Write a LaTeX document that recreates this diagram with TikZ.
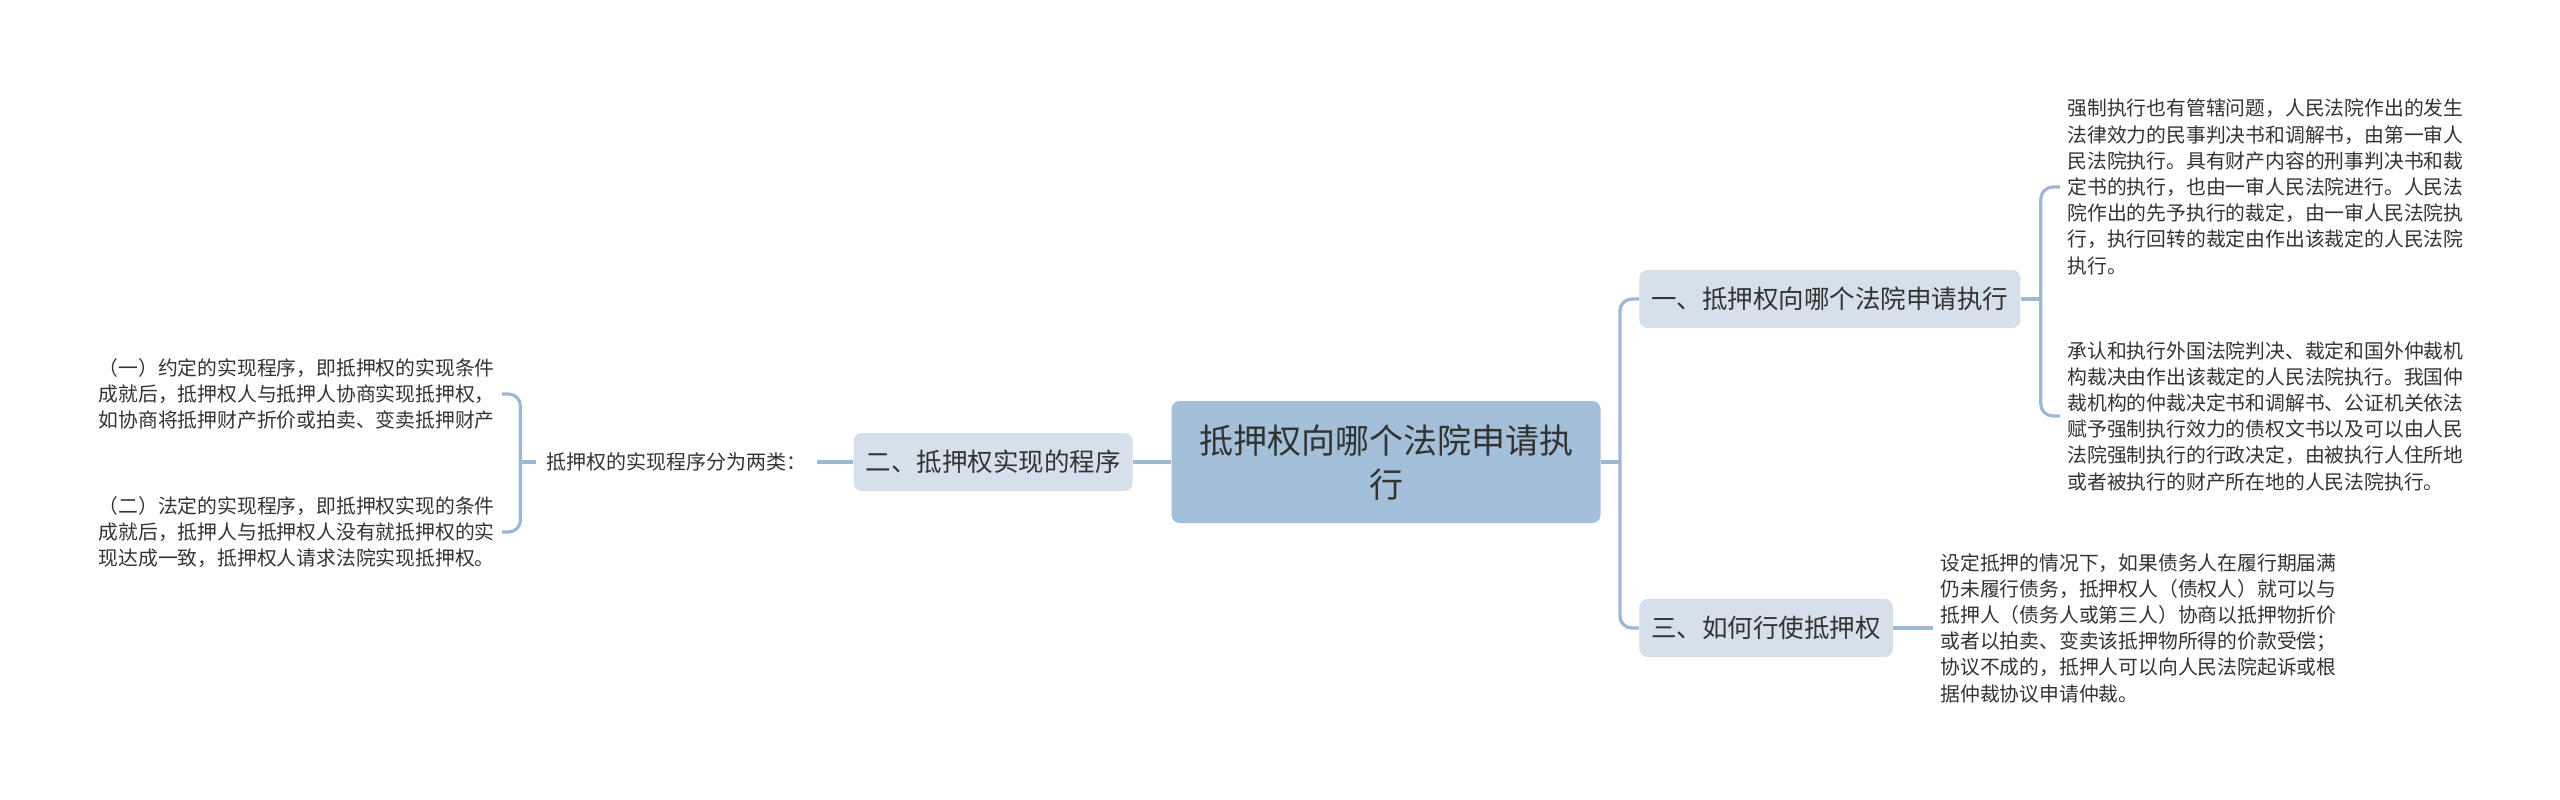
\documentclass[tikz,border=0pt]{standalone}
\usepackage{fontspec}
\setmainfont{Noto Sans CJK SC}
\usepackage{tikz}
\usetikzlibrary{positioning}
\definecolor{TopicBlue}{RGB}{164,191,217}
\definecolor{BranchBlue}{RGB}{213,224,234}
\definecolor{LinkBlue}{RGB}{158,183,211}
\definecolor{InkGray}{RGB}{51,51,51}

\begin{document}
\begin{tikzpicture}[
  x=0.5pt,y=-0.5pt,
  topic/.style={fill=TopicBlue,rounded corners=4pt,text=InkGray,
                minimum width=214.5pt,minimum height=61pt,align=center,
                font={\fontsize{17}{22}\selectfont}},
  branch/.style={fill=BranchBlue,rounded corners=4pt,text=InkGray,
                 inner xsep=6pt,minimum height=29pt,
                 font={\fontsize{12.75}{15}\selectfont}},
  note/.style={text=InkGray,inner xsep=5.25pt,font={\fontsize{10}{12}\selectfont}},
  leaf/.style={text=InkGray,inner xsep=3.5pt,align=left,
               font={\fontsize{9.9}{13.1}\selectfont}},
  conn/.style={draw=LinkBlue,line width=1.6pt,rounded corners=6pt}
]
\useasboundingbox (0,0) rectangle (2560,799);

\node[topic] (root) at (1386,462) {抵押权向哪个法院申请执\\行};

% left side
\node[branch,left=19pt of root] (proc) {二、抵押权实现的程序};
\node[note,left=18pt of proc] (kinds) {抵押权的实现程序分为两类：};
\node[leaf,anchor=east] (agreed) at (502,394)
  {（一）约定的实现程序，即抵押权的实现条件\\
   成就后，抵押权人与抵押人协商实现抵押权，\\
   如协商将抵押财产折价或拍卖、变卖抵押财产};
\node[leaf,anchor=east] (legal) at (502,532)
  {（二）法定的实现程序，即抵押权实现的条件\\
   成就后，抵押人与抵押权人没有就抵押权的实\\
   现达成一致，抵押权人请求法院实现抵押权。};

% right side
\node[branch,anchor=west] (court) at (1639,299) {一、抵押权向哪个法院申请执行};
\node[branch,anchor=west] (use) at (1639,628) {三、如何行使抵押权};
\node[leaf,anchor=west] (juris) at (2060,187)
  {强制执行也有管辖问题，人民法院作出的发生\\
   法律效力的民事判决书和调解书，由第一审人\\
   民法院执行。具有财产内容的刑事判决书和裁\\
   定书的执行，也由一审人民法院进行。人民法\\
   院作出的先予执行的裁定，由一审人民法院执\\
   行，执行回转的裁定由作出该裁定的人民法院\\
   执行。};
\node[leaf,anchor=west] (foreign) at (2060,416)
  {承认和执行外国法院判决、裁定和国外仲裁机\\
   构裁决由作出该裁定的人民法院执行。我国仲\\
   裁机构的仲裁决定书和调解书、公证机关依法\\
   赋予强制执行效力的债权文书以及可以由人民\\
   法院强制执行的行政决定，由被执行人住所地\\
   或者被执行的财产所在地的人民法院执行。};
\node[leaf,anchor=west] (exercise) at (1933,628)
  {设定抵押的情况下，如果债务人在履行期届满\\
   仍未履行债务，抵押权人（债权人）就可以与\\
   抵押人（债务人或第三人）协商以抵押物折价\\
   或者以拍卖、变卖该抵押物所得的价款受偿；\\
   协议不成的，抵押人可以向人民法院起诉或根\\
   据仲裁协议申请仲裁。};

% connectors
\coordinate[right=9.5pt of root] (rootR);
\draw[conn] (root) -- (rootR);
\draw[conn] (rootR) |- (court);
\draw[conn] (rootR) |- (use);
\coordinate[right=10pt of court] (courtR);
\draw[conn] (court) -- (courtR);
\draw[conn] (courtR) |- (juris);
\draw[conn] (courtR) |- (foreign);
\draw[conn] (use) -- (exercise);

\draw[conn] (root) -- (proc);
\draw[conn] (proc) -- (kinds);
\coordinate[left=7.5pt of kinds] (kindsL);
\draw[conn] (kinds) -- (kindsL);
\draw[conn] (kindsL) |- (agreed);
\draw[conn] (kindsL) |- (legal);
\end{tikzpicture}
\end{document}
